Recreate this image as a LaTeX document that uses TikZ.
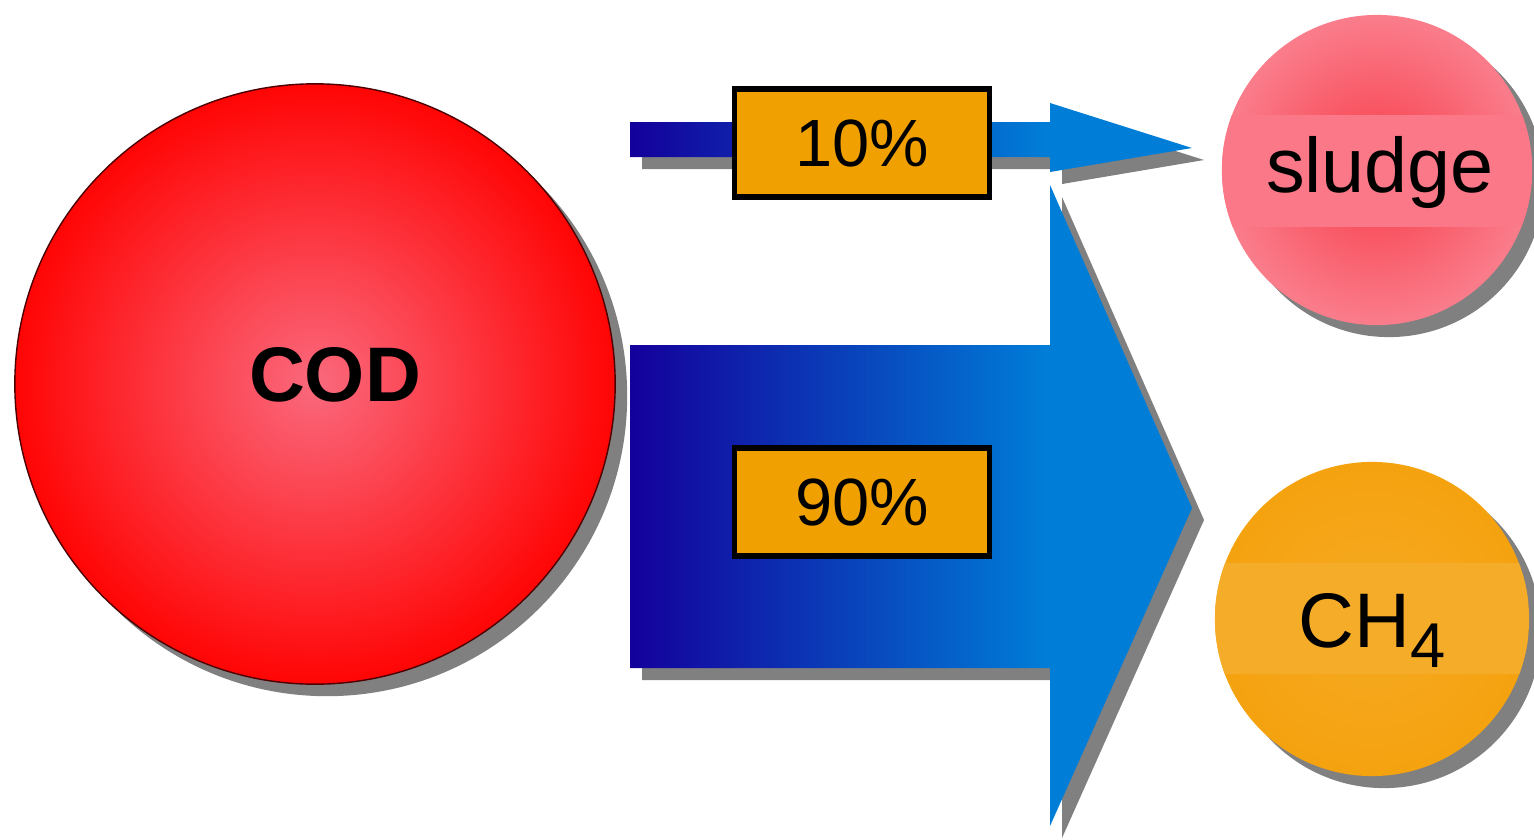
\documentclass[tikz,border=0pt]{standalone}
\usepackage{fontspec}
\setmainfont{Liberation Sans}
\usetikzlibrary{shadows}

\definecolor{flowdark}{RGB}{20,0,155}
\definecolor{flowlight}{RGB}{0,125,215}
\definecolor{shadowgray}{RGB}{128,128,128}
\definecolor{pctorange}{RGB}{240,160,0}
\definecolor{codin}{RGB}{250,105,125}
\definecolor{codout}{RGB}{255,5,5}
\definecolor{sludgein}{RGB}{248,60,72}
\definecolor{sludgeout}{RGB}{250,125,140}
\definecolor{sludgeband}{RGB}{250,120,135}
\definecolor{gasin}{RGB}{245,170,35}
\definecolor{gasout}{RGB}{245,162,15}
\definecolor{gasband}{RGB}{245,172,40}

\pgfdeclarehorizontalshading{flowshade}{100bp}{color(0bp)=(flowdark); color(25bp)=(flowdark); color(62bp)=(flowlight); color(100bp)=(flowlight)}

\begin{document}
\begin{tikzpicture}[x=0.01cm, y=-0.01cm]
        \tikzstyle{shade} = [drop shadow={shadow xshift=0.12cm, shadow yshift=-0.12cm, fill=shadowgray, opacity=1}]
        \tikzstyle{flow} = [shade, shading=flowshade]
        \tikzstyle{pct} = [draw=black, line width=1.6pt, fill=pctorange, minimum width=2.55cm, minimum height=1.08cm, font=\fontsize{19}{19}\selectfont]
        \tikzstyle{ball} = [circle, inner sep=0pt, shade]

        \useasboundingbox (0, 0) rectangle (1534, 839);

        % input and products
        \node[ball, draw=black!70!red, line width=0.4pt, minimum size=6cm, inner color=codin, outer color=codout,
              label={[xshift=0.2cm, yshift=0.09cm, font=\fontsize{22}{22}\selectfont\bfseries]center:COD}] (cod) at (315, 384) {};
        \node[ball, minimum size=3.1cm, inner color=sludgein, outer color=sludgeout,
              path picture={\fill[sludgeband] ([yshift=0.55cm]path picture bounding box.west) rectangle ([yshift=-0.57cm]path picture bounding box.east);}] (sludge) at (1377, 170) {};
        \node[font=\fontsize{22}{22}\selectfont] (sludgetext) at (1380, 172) {sludge};
        \node[ball, minimum size=3.14cm, inner color=gasin, outer color=gasout,
              path picture={\fill[gasband] ([yshift=0.56cm]path picture bounding box.west) rectangle ([yshift=-0.55cm]path picture bounding box.east);}] (ch4) at (1372, 619) {};
        \node[font=\fontsize{22}{22}\selectfont] (ch4text) at (1372, 630) {CH\raisebox{-0.2cm}{\fontsize{18}{18}\selectfont 4}};

        % flows
        \coordinate (smalltip) at (1192, 148);
        \coordinate (bigtip) at (1192, 508);
        \path[flow] (630, 122) -- (1050, 122) -- (1050, 103) -- (smalltip) -- (1050, 172) -- (1050, 157) -- (630, 157) -- cycle;
        \path[flow] (630, 345) -- (1050, 345) -- (1050, 185) -- (bigtip) -- (1050, 826) -- (1050, 668) -- (630, 668) -- cycle;

        \node[pct] (small) at (862, 143) {10\%};
        \node[pct] (large) at (862, 502) {90\%};
    \end{tikzpicture}
\end{document}
